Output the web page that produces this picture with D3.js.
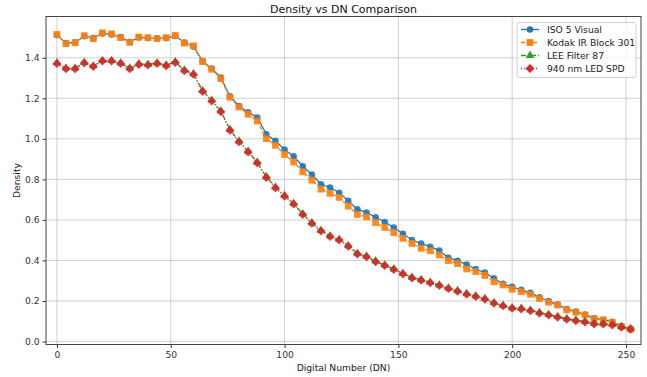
<!DOCTYPE html>
<html><head><meta charset="utf-8">
<script src="https://cdn.jsdelivr.net/npm/d3@7"></script>
<style>body{margin:0;background:#fff}svg{display:block;font-family:"DejaVu Sans",sans-serif}</style>
</head><body><svg id="c" width="647" height="377"></svg>
<script>
const dn = d3.range(0, 253, 4);
const iso5 = [1.512,1.472,1.476,1.506,1.497,1.520,1.515,1.502,1.479,1.500,1.497,1.496,1.497,1.507,1.475,1.455,1.383,1.347,1.302,1.210,1.162,1.131,1.105,1.023,0.990,0.947,0.914,0.865,0.824,0.776,0.760,0.734,0.695,0.652,0.637,0.613,0.590,0.563,0.532,0.501,0.483,0.468,0.449,0.413,0.399,0.380,0.358,0.340,0.312,0.285,0.270,0.255,0.241,0.218,0.200,0.183,0.160,0.148,0.133,0.115,0.108,0.097,0.076,0.062];
const kodak = [1.515,1.469,1.474,1.509,1.494,1.523,1.518,1.499,1.476,1.502,1.499,1.494,1.499,1.510,1.472,1.459,1.381,1.343,1.297,1.205,1.157,1.121,1.088,1.001,0.968,0.923,0.886,0.837,0.796,0.752,0.731,0.711,0.668,0.627,0.615,0.586,0.563,0.537,0.509,0.484,0.460,0.448,0.427,0.399,0.384,0.358,0.345,0.326,0.295,0.279,0.258,0.246,0.233,0.212,0.194,0.180,0.156,0.145,0.131,0.113,0.107,0.095,0.074,0.061];
const lee87 = [1.376,1.349,1.349,1.377,1.360,1.386,1.386,1.374,1.349,1.370,1.367,1.374,1.364,1.380,1.339,1.321,1.238,1.191,1.138,1.046,0.989,0.939,0.885,0.813,0.762,0.721,0.681,0.630,0.586,0.548,0.521,0.504,0.473,0.435,0.421,0.397,0.378,0.358,0.336,0.317,0.305,0.293,0.279,0.264,0.251,0.236,0.225,0.212,0.192,0.179,0.167,0.164,0.155,0.143,0.134,0.123,0.113,0.106,0.099,0.090,0.089,0.085,0.074,0.064];
const led940 = [1.371,1.346,1.346,1.374,1.357,1.384,1.384,1.372,1.346,1.367,1.364,1.372,1.361,1.377,1.336,1.318,1.234,1.187,1.134,1.042,0.985,0.935,0.881,0.809,0.758,0.717,0.678,0.627,0.583,0.545,0.518,0.501,0.470,0.432,0.418,0.394,0.375,0.355,0.333,0.314,0.302,0.290,0.276,0.261,0.248,0.233,0.222,0.209,0.189,0.176,0.164,0.161,0.152,0.140,0.131,0.120,0.110,0.103,0.096,0.087,0.086,0.082,0.071,0.061];
const seriesNames = ["ISO 5 Visual","Kodak IR Block 301","LEE Filter 87","940 nm LED SPD"];
const xTicks = [0,50,100,150,200,250];
const yTicks = [0.0,0.2,0.4,0.6,0.8,1.0,1.2,1.4];

const series = [
  {name:seriesNames[0], vals:iso5, color:"#1f77b4", dash:null, sym:d3.symbolCircle, size:34, rot:0},
  {name:seriesNames[1], vals:kodak, color:"#ff7f0e", dash:"4,2", sym:d3.symbolSquare, size:46, rot:0},
  {name:seriesNames[2], vals:lee87, color:"#2ca02c", dash:"5,2,1,2", sym:d3.symbolTriangle, size:32, rot:0},
  {name:seriesNames[3], vals:led940, color:"#d62728", dash:"1,2", sym:d3.symbolSquare, size:40, rot:45}
];

const L=46, R=641, T=16.5, B=344.5;
const svg = d3.select("#c");
const x = d3.scaleLinear().domain([-4.8, 256.6]).range([L, R]);
const y = d3.scaleLinear().domain([-0.0145, 1.6035]).range([B, T]);

// grid
const g = svg.append("g");
g.selectAll(".vg").data(xTicks).join("line")
  .attr("x1", d=>x(d)).attr("x2", d=>x(d)).attr("y1",T).attr("y2",B)
  .attr("stroke","#b0b0b0").attr("stroke-opacity",0.6).attr("stroke-width",1);
g.selectAll(".hg").data(yTicks).join("line")
  .attr("y1", d=>y(d)).attr("y2", d=>y(d)).attr("x1",L).attr("x2",R)
  .attr("stroke","#b0b0b0").attr("stroke-opacity",0.6).attr("stroke-width",1);

// series
const line = d3.line().x((d,i)=>x(dn[i])).y(d=>y(d));
series.forEach(s=>{
  const sg = svg.append("g");
  sg.append("path").datum(s.vals).attr("d",line).attr("fill","none")
    .attr("stroke",s.color).attr("stroke-width",1.3)
    .attr("stroke-dasharray",s.dash);
  sg.selectAll("path.m").data(s.vals).join("path").attr("class","m")
    .attr("d", d3.symbol().type(s.sym).size(s.size))
    .attr("transform",(d,i)=>`translate(${x(dn[i])},${y(d)}) rotate(${s.rot})`)
    .attr("fill",s.color).attr("fill-opacity",0.9);
});

// axes
const xa = svg.append("g").attr("transform",`translate(0,${B})`)
  .call(d3.axisBottom(x).tickValues(xTicks).tickSize(3.5).tickPadding(3).tickFormat(d3.format("d")));
const ya = svg.append("g").attr("transform",`translate(${L},0)`)
  .call(d3.axisLeft(y).tickValues(yTicks).tickSize(3.5).tickPadding(3).tickFormat(d3.format(".1f")));
[xa,ya].forEach(a=>{
  a.select(".domain").remove();
  a.selectAll("text").attr("font-size",9.2).attr("fill","#333").attr("font-family","DejaVu Sans");
  a.selectAll("line").attr("stroke","#333");
});
svg.append("rect").attr("x",L).attr("y",T).attr("width",R-L).attr("height",B-T)
  .attr("fill","none").attr("stroke","#444").attr("stroke-width",1);

// labels
svg.append("text").attr("x",(L+R)/2).attr("y",13).attr("text-anchor","middle")
  .attr("font-size",11).attr("fill","#111").text("Density vs DN Comparison");
svg.append("text").attr("x",(L+R)/2).attr("y",371).attr("text-anchor","middle")
  .attr("font-size",9.2).attr("fill","#222").text("Digital Number (DN)");
svg.append("text").attr("transform",`translate(20,${(T+B)/2}) rotate(-90)`).attr("text-anchor","middle")
  .attr("font-size",9.2).attr("fill","#222").text("Density");

// legend
const lg = svg.append("g");
lg.append("rect").attr("x",517).attr("y",22.5).attr("width",119).attr("height",55).attr("rx",2)
  .attr("fill","#fff").attr("fill-opacity",0.8).attr("stroke","#d0d0d0");
series.forEach((s,i)=>{
  const yy = 29.5 + i*13;
  lg.append("line").attr("x1",521).attr("x2",539).attr("y1",yy).attr("y2",yy)
    .attr("stroke",s.color).attr("stroke-width",1.3).attr("stroke-dasharray",s.dash);
  lg.append("path").attr("d",d3.symbol().type(s.sym).size(s.size)).attr("transform",`translate(530,${yy}) rotate(${s.rot})`)
    .attr("fill",s.color);
  lg.append("text").attr("x",547).attr("y",yy+3.3).attr("font-size",9.2).attr("fill","#222").text(s.name);
});
</script></body></html>
